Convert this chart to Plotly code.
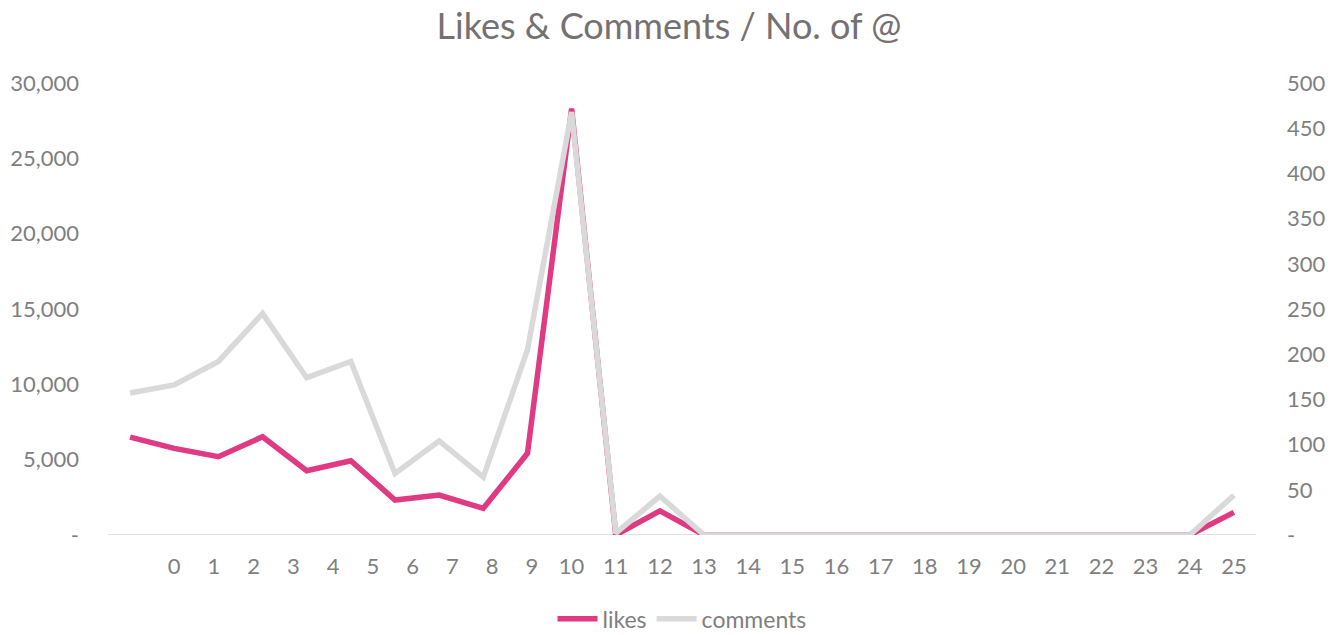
import plotly.graph_objects as go

# ---- data ----
tick_labels = [str(k) for k in range(26)]
point_index = list(range(26))
likes = [6500, 5750, 5200, 6520, 4270, 4930, 2320, 2650, 1770, 5420,
         28300, 0, 1600, 0, 0, 0, 0, 0, 0, 0, 0, 0, 0, 0, 0, 1500]
comments = [157, 166, 192, 245, 174, 192, 68, 104, 64, 205,
            468, 2, 43, 0, 0, 0, 0, 0, 0, 0, 0, 0, 0, 0, 0, 44]
left_ticks = [0, 5000, 10000, 15000, 20000, 25000, 30000]
left_ticktext = ["-", "5,000", "10,000", "15,000", "20,000", "25,000", "30,000"]
right_ticks = [0, 50, 100, 150, 200, 250, 300, 350, 400, 450, 500]
right_ticktext = ["-"] + [str(v) for v in right_ticks[1:]]

PINK = "#E03A82"
GREY = "#D9D9D9"
TXT = "#7F7F7F"
FONT = "Lato"

# label placement as in the reference (first labels are compressed)
tickpos = [1 + 0.9 * k if k <= 10 else k for k in range(26)]

fig = go.Figure()
fig.add_trace(go.Scatter(x=point_index, y=comments, name="comments", mode="lines",
                         line=dict(color=GREY, width=5.5), yaxis="y2"))
fig.add_trace(go.Scatter(x=point_index, y=likes, name="likes", mode="lines",
                         line=dict(color=PINK, width=5.5), yaxis="y"))

fig.update_layout(
    width=1338, height=635,
    paper_bgcolor="white", plot_bgcolor="white",
    margin=dict(l=108, r=82, t=83, b=100, autoexpand=False),
    title=dict(text="Likes & Comments / No. of @", x=0.5, xanchor="center",
               y=0.958, yanchor="middle",
               font=dict(family=FONT, size=36, color="#767171")),
    font=dict(family=FONT, size=22, color=TXT),
    xaxis=dict(range=[-0.5, 25.5], tickvals=tickpos, ticktext=tick_labels,
               showgrid=False, zeroline=False, showline=False, ticks="",
               automargin=False, ticklabelstandoff=16,
               tickfont=dict(family=FONT, size=22, color=TXT)),
    yaxis=dict(range=[0, 30000], tickvals=left_ticks, ticktext=left_ticktext,
               showgrid=False, zeroline=False, showline=False, ticks="",
               automargin=False, ticklabelstandoff=28,
               tickfont=dict(family=FONT, size=22, color=TXT)),
    yaxis2=dict(range=[0, 500], tickvals=right_ticks, ticktext=right_ticktext,
                overlaying="y", side="right", showgrid=False, zeroline=False,
                showline=False, ticks="", ticklabelstandoff=30, automargin=False,
                tickfont=dict(family=FONT, size=22, color=TXT)),
    legend=dict(orientation="h", x=0.5, xanchor="center", y=-0.138, yanchor="top",
                traceorder="reversed", font=dict(family=FONT, size=23, color=TXT),
                itemwidth=40),
    shapes=[dict(type="line", xref="paper", yref="y", x0=0, x1=1, y0=0, y1=0,
                 line=dict(color="#D9D9D9", width=1.5), layer="below")],
)

fig.write_html("out.html", config={"displayModeBar": False},
               post_script="document.body.style.margin='0';")
